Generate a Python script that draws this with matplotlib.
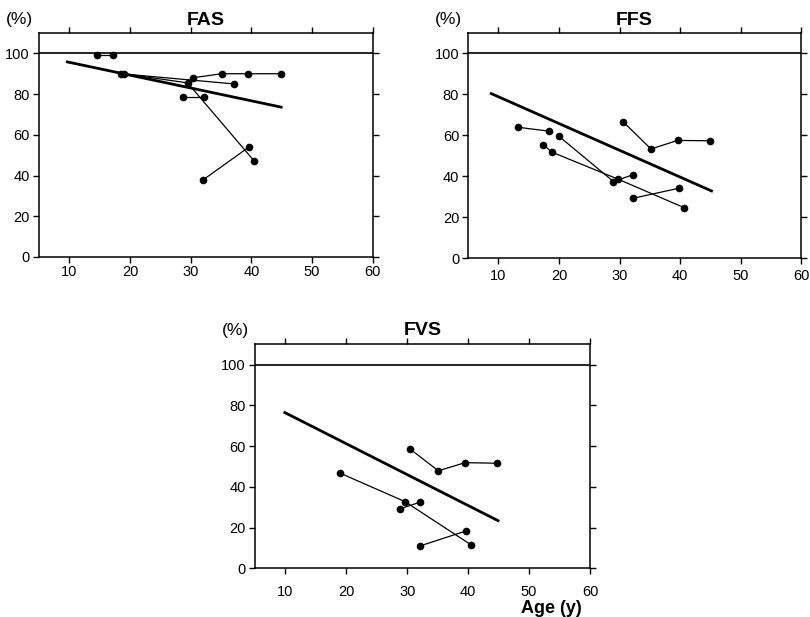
import matplotlib.pyplot as plt

plt.rcParams['font.family'] = ['Liberation Sans', 'DejaVu Sans']

# age (y) and value (%) for each patient, one list per panel
fas_ages = [[14.5, 17.2], [18.5, 37.1], [19.0, 29.5, 40.5], [30.3, 35.1, 39.4, 44.8],
            [28.8, 32.2], [32.1, 39.6]]
fas_vals = [[99, 99], [90, 85], [90, 85.5, 47], [88, 90, 90, 90],
            [78.7, 78.7], [38, 54]]
fas_fit_x = [9.7, 44.9]
fas_fit_y = [95.8, 73.6]

ffs_ages = [[13.3, 18.4], [20.0, 29.0, 32.2], [17.4, 18.8, 29.8, 40.7],
            [30.6, 35.2, 39.6, 45.0], [32.2, 39.8]]
ffs_vals = [[63.9, 62], [59.5, 37.4, 40.7], [55.4, 51.8, 38.5, 24.6],
            [66.6, 53.3, 57.5, 57.3], [29.2, 34.1]]
ffs_fit_x = [8.8, 45.2]
ffs_fit_y = [80.4, 32.8]

fvs_ages = [[19.0, 29.6, 40.5], [28.8, 32.1], [32.1, 39.6], [30.4, 35.1, 39.5, 44.8]]
fvs_vals = [[46.7, 32.8, 11.5], [29.2, 32.5], [11.0, 18.3], [58.7, 47.9, 51.9, 51.6]]
fvs_fit_x = [9.9, 44.9]
fvs_fit_y = [76.5, 23.4]

xticks = [10, 20, 30, 40, 50, 60]
yticks = [0, 20, 40, 60, 80, 100]

fig = plt.figure(figsize=(8.1, 6.17), dpi=100)

# name, axes rect, x tick label pad, title pad, data
panels = [
    ('FAS', [0.048, 0.5835, 0.4123, 0.363], 2, 6, fas_ages, fas_vals, fas_fit_x, fas_fit_y),
    ('FFS', [0.578, 0.5818, 0.411, 0.3647], 4, 6, ffs_ages, ffs_vals, ffs_fit_x, ffs_fit_y),
    ('FVS', [0.3148, 0.0789, 0.4136, 0.363], 8, 7, fvs_ages, fvs_vals, fvs_fit_x, fvs_fit_y),
]

for name, pos, xpad, tpad, ages, vals, fx, fy in panels:
    ax = fig.add_axes(pos)
    ax.set_xlim(5, 60)
    ax.set_ylim(0, 110)
    ax.axhline(100, color='black', lw=1.2)
    for a, v in zip(ages, vals):
        ax.plot(a, v, '-o', color='black', lw=0.9, ms=4.5)
    ax.plot(fx, fy, color='black', lw=2.0)
    ax.set_xticks(xticks)
    ax.set_yticks(yticks)
    ax.tick_params(direction='out', length=4, width=1, labelsize=10.5,
                   top=True, right=True)
    ax.tick_params(axis='y', pad=2.5)
    ax.tick_params(axis='x', pad=xpad)
    for sp in ax.spines.values():
        sp.set_linewidth(1.1)
    ax.set_title(name, fontsize=14, fontweight='bold', pad=tpad)
    # "(%)" label above the y axis
    ax.annotate('(%)', xy=(0, 1), xycoords='axes fraction', xytext=(-33, 6),
                textcoords='offset pixels', fontsize=12.5, ha='left', va='bottom')
    if name == 'FVS':
        ax.text(0.976, -0.14, 'Age (y)', transform=ax.transAxes, fontsize=13,
                fontweight='bold', ha='right', va='top')

fig.savefig('out.png', dpi=100)
